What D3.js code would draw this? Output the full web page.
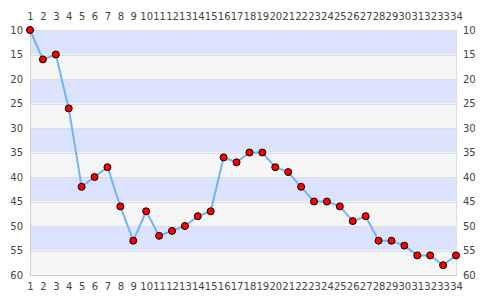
<!DOCTYPE html>
<html>
<head>
<meta charset="utf-8">
<script src="https://cdn.jsdelivr.net/npm/d3@7"></script>
<style>
  body { margin: 0; background: #fff; }
  svg { display: block; }
</style>
</head>
<body>
<svg width="485" height="300"></svg>
<script>
// positions 1..34 and the value at each
var positions = [1,2,3,4,5,6,7,8,9,10,11,12,13,14,15,16,17,18,19,20,21,22,23,24,25,26,27,28,29,30,31,32,33,34];
var values = [10,16,15,26,42,40,38,46,53,47,52,51,50,48,47,36,37,35,35,38,39,42,45,45,46,49,48,53,53,54,56,56,58,56];
var yTicks = [10,15,20,25,30,35,40,45,50,55,60];

var svg = d3.select("svg"),
    plotLeft = 30, plotRight = 456, plotTop = 30, plotBottom = 275;

var x = d3.scaleLinear().domain([1, 34]).range([plotLeft, plotRight]);
var y = d3.scaleLinear().domain([10, 60]).range([plotTop, plotBottom]);

// alternating bands
var bands = d3.pairs(yTicks);
svg.append("g").selectAll("rect")
    .data(bands)
    .enter().append("rect")
    .attr("x", plotLeft)
    .attr("width", plotRight - plotLeft)
    .attr("y", function(d) { return y(d[0]); })
    .attr("height", function(d) { return y(d[1]) - y(d[0]); })
    .attr("fill", function(d, i) { return i % 2 == 0 ? "#dce3fe" : "#f6f6f6"; });

// grid lines
svg.append("g").selectAll("line")
    .data(yTicks)
    .enter().append("line")
    .attr("x1", plotLeft).attr("x2", plotRight)
    .attr("y1", function(d) { return Math.round(y(d)) + 0.5; })
    .attr("y2", function(d) { return Math.round(y(d)) + 0.5; })
    .attr("stroke", "#dddddd");

// frame
svg.append("line").attr("x1", plotLeft + 0.5).attr("x2", plotLeft + 0.5).attr("y1", plotTop).attr("y2", plotBottom + 1).attr("stroke", "#cccccc");
svg.append("line").attr("x1", plotRight + 0.5).attr("x2", plotRight + 0.5).attr("y1", plotTop).attr("y2", plotBottom + 1).attr("stroke", "#dddddd");
svg.append("line").attr("x1", plotLeft).attr("x2", plotRight + 1).attr("y1", plotBottom + 0.5).attr("y2", plotBottom + 0.5).attr("stroke", "#cccccc");

// axes (labels only)
function styleAxis(g) {
    g.attr("font-family", "DejaVu Sans").attr("font-size", 10);
    g.select(".domain").remove();
    g.selectAll(".tick line").remove();
    g.selectAll("text").attr("fill", "#444");
}
svg.append("g").attr("transform", "translate(0," + (plotTop - 10) + ")")
    .call(d3.axisTop(x).tickValues(positions).tickFormat(d3.format("d")).tickSize(0).tickPadding(0))
    .call(styleAxis);
svg.append("g").attr("transform", "translate(0," + (plotBottom + 8) + ")")
    .call(d3.axisBottom(x).tickValues(positions).tickFormat(d3.format("d")).tickSize(0).tickPadding(0))
    .call(styleAxis);
svg.append("g").attr("transform", "translate(" + (plotLeft - 7) + ",0)")
    .call(d3.axisLeft(y).tickValues(yTicks).tickSize(0).tickPadding(0))
    .call(styleAxis);
svg.append("g").attr("transform", "translate(" + (plotRight + 7) + ",0)")
    .call(d3.axisRight(y).tickValues(yTicks).tickSize(0).tickPadding(0))
    .call(styleAxis);

var data = positions.map(function(p, i) { return {x: p, y: values[i]}; });

svg.append("path")
    .datum(data)
    .attr("fill", "none")
    .attr("stroke", "#74b4f2")
    .attr("stroke-width", 2)
    .attr("d", d3.line().x(function(d) { return x(d.x); }).y(function(d) { return y(d.y); }));

svg.append("g").selectAll("circle")
    .data(data)
    .enter().append("circle")
    .attr("cx", function(d) { return x(d.x); })
    .attr("cy", function(d) { return y(d.y); })
    .attr("r", 3.5)
    .attr("fill", "#ff0000")
    .attr("stroke", "#000")
    .attr("stroke-width", 1);
</script>
</body>
</html>
